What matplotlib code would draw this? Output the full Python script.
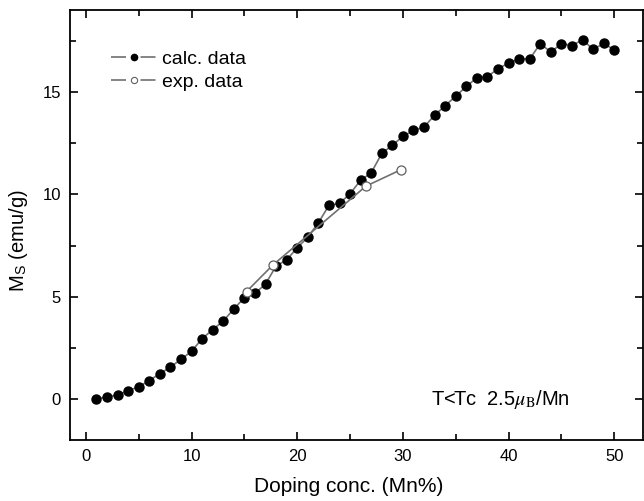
import numpy as np
import matplotlib
matplotlib.use("Agg")
import matplotlib.pyplot as plt
from matplotlib.ticker import MultipleLocator
from matplotlib.lines import Line2D

plt.rcParams['font.family'] = ['Liberation Sans', 'DejaVu Sans']
plt.rcParams['mathtext.fontset'] = 'stix'

# calculated saturation magnetisation vs Mn doping
calc_x = list(range(1, 51))
calc_y = [0.0, 0.1, 0.2, 0.4, 0.6, 0.9, 1.24, 1.56, 1.94, 2.33,
          2.95, 3.39, 3.81, 4.4, 4.95, 5.16, 5.62, 6.5, 6.8, 7.39,
          7.91, 8.61, 9.46, 9.56, 10.03, 10.69, 11.05, 12.0, 12.4, 12.83,
          13.12, 13.29, 13.87, 14.33, 14.8, 15.27, 15.7, 15.75, 16.14, 16.41,
          16.62, 16.62, 17.36, 16.95, 17.36, 17.27, 17.55, 17.08, 17.37, 17.06]

# experimental points
exp_x = [15.2, 17.7, 26.5, 29.8]
exp_y = [5.25, 6.55, 10.4, 11.2]

fig = plt.figure(figsize=(6.44, 5.01), dpi=100)
ax = fig.add_axes([0.1087, 0.1218, 0.8903, 0.858])

ax.plot(calc_x, calc_y, '-o', color='#707070', lw=1.2, mfc='black', mec='black', ms=6.5)
ax.plot(exp_x, exp_y, '-o', color='#707070', lw=1.2, mfc='white', mec='#606060',
        ms=6.5, mew=0.9)

ax.set_xlim(-1.5, 52.75)
ax.set_ylim(-2, 19)
ax.xaxis.set_major_locator(MultipleLocator(10))
ax.xaxis.set_minor_locator(MultipleLocator(5))
ax.yaxis.set_major_locator(MultipleLocator(5))
ax.yaxis.set_minor_locator(MultipleLocator(2.5))
ax.tick_params(which='both', direction='in', top=True, right=True, labelsize=12, width=1.2)
ax.tick_params(which='major', length=6, pad=6.5)
ax.tick_params(which='minor', length=4)
for s in ax.spines.values():
    s.set_linewidth(1.3)

ax.set_xlabel('Doping conc. (Mn%)', fontsize=15)
ax.set_ylabel(r'M$_\mathregular{S}$ (emu/g)', fontsize=14.5)
ax.xaxis.set_label_coords(0.4866, -0.085)
ax.yaxis.set_label_coords(-0.07, 0.465)

ax.text(39.2, 0.0, r'T<Tc  2.5$\mu_\mathrm{B}$/Mn', fontsize=14.5, ha='center', va='center')

# legend handles in the "— • —" style, line broken around the marker
gap = (0, (9, 8.7, 9, 20))
h_calc = Line2D([], [], color='#707070', lw=1.2, ls=gap, marker='o', ms=4.5,
                mfc='black', mec='black')
h_exp = Line2D([], [], color='#707070', lw=1.2, ls=gap, marker='o', ms=4.5,
               mfc='white', mec='#606060', mew=0.8)
ax.legend([h_calc, h_exp], ['calc. data', 'exp. data'], loc='upper left',
          bbox_to_anchor=(0.072, 0.907), frameon=False, fontsize=14,
          handlelength=2.3, handletextpad=0.3, labelspacing=0.3,
          borderaxespad=0, borderpad=0)

fig.savefig('out.png', dpi=100)
